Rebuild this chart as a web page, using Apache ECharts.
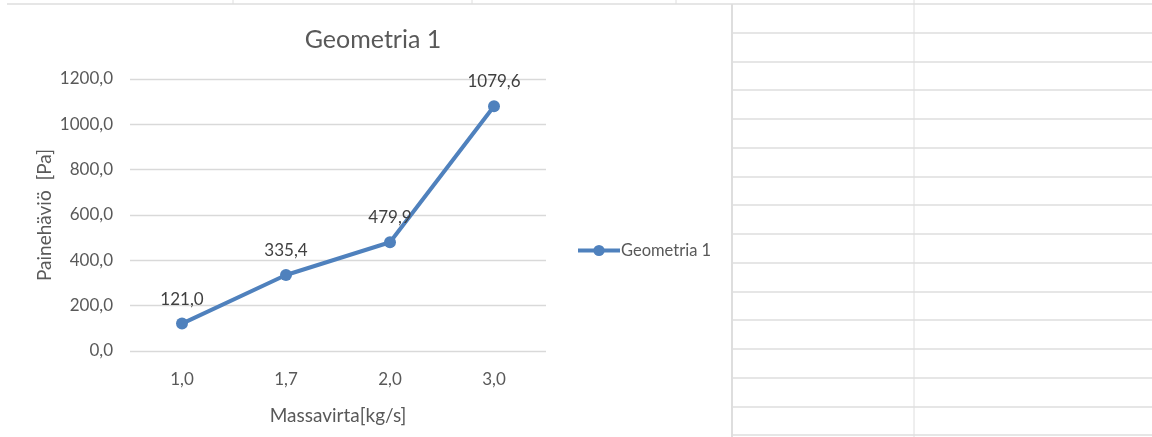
<!DOCTYPE html>
<html>
<head>
<meta charset="utf-8">
<script src="https://cdn.jsdelivr.net/npm/echarts@6/dist/echarts.min.js"></script>
<style>
  html, body { margin: 0; padding: 0; background: #ffffff; }
  #chart { width: 1152px; height: 437px; }
</style>
</head>
<body>
<div id="chart"></div>
<script>
// Mass flow categories and measured pressure loss
const categories = ['1,0', '1,7', '2,0', '3,0'];
const pressureLoss = [121.0, 335.4, 479.9, 1079.6];
const seriesName = 'Geometria 1';
const yTicks = { min: 0, max: 1200, interval: 200 };

const FONT = 'Lato';
const TEXT = '#595959';
const BLUE = '#4f81bd';
const fmt = v => v.toFixed(1).replace('.', ',');

// Worksheet cell lines around the embedded chart
const sheet = [];
const cellLine = '#dedede';
function line(x1, y1, x2, y2, w) {
  sheet.push({ type: 'line', silent: true, z: -10,
    shape: { x1, y1, x2, y2 },
    style: { stroke: cellLine, lineWidth: w || 1 } });
}
line(7, 4, 1152, 4, 1.5);
[233, 472, 676].forEach(x => line(x, 0, x, 4));
line(732, 4, 732, 437, 2);
line(914, 0, 914, 437, 1);
for (let y = 4 + 28.75; y < 437; y += 28.75) line(733, Math.round(y), 1152, Math.round(y), 1.5);

const chart = echarts.init(document.getElementById('chart'), null, { renderer: 'canvas' });
chart.setOption({
  animation: false,
  backgroundColor: '#ffffff',
  graphic: sheet,
  title: {
    text: seriesName,
    left: 368, top: 22, textAlign: 'center',
    textStyle: { fontFamily: FONT, fontSize: 25, fontWeight: 'normal', color: TEXT }
  },
  legend: {
    data: [seriesName],
    left: 571, top: 237,
    itemWidth: 42, itemHeight: 14, itemGap: 0,
    lineStyle: { width: 4 },
    textStyle: { fontFamily: FONT, fontSize: 16.5, color: TEXT, padding: [0, 0, 0, -4] }
  },
  grid: { left: 130, right: 606, top: 79, bottom: 86 },
  xAxis: {
    type: 'category',
    data: categories,
    boundaryGap: true,
    name: 'Massavirta[kg/s]',
    nameLocation: 'middle',
    nameGap: 55,
    nameTextStyle: { fontFamily: FONT, fontSize: 19, color: TEXT },
    axisLine: { show: false },
    axisTick: { show: false },
    axisLabel: { fontFamily: FONT, fontSize: 17, color: TEXT, margin: 20 }
  },
  yAxis: {
    type: 'value',
    min: yTicks.min, max: yTicks.max, interval: yTicks.interval,
    name: 'Painehäviö  [Pa]',
    nameLocation: 'middle',
    nameGap: 76,
    nameTextStyle: { fontFamily: FONT, fontSize: 19, color: TEXT },
    axisLine: { show: false },
    axisTick: { show: false },
    splitLine: { lineStyle: { color: '#d9d9d9', width: 1.3 } },
    axisLabel: { fontFamily: FONT, fontSize: 17, color: TEXT, margin: 17, formatter: fmt }
  },
  series: [{
    name: seriesName,
    type: 'line',
    data: pressureLoss,
    symbol: 'circle',
    symbolSize: 12,
    lineStyle: { color: BLUE, width: 4 },
    itemStyle: { color: BLUE },
    label: {
      show: true, position: 'top', distance: 10,
      fontFamily: FONT, fontSize: 17, color: '#404040',
      formatter: p => fmt(p.value)
    }
  }]
});
</script>
</body>
</html>
